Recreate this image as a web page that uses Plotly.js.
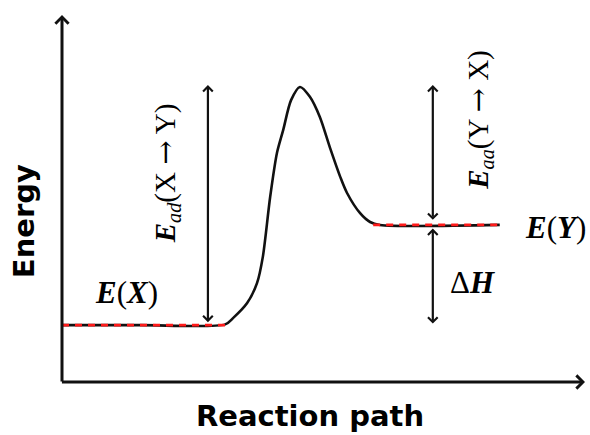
<!DOCTYPE html>
<html>
<head>
<meta charset="utf-8">
<script src="https://cdn.plot.ly/plotly-3.0.1.min.js"></script>
<style>html,body{margin:0;padding:0;background:#fff;}#chart{width:590px;height:435px;}</style>
</head>
<body>
<div id="chart"></div>
<script>
// Reaction coordinate (arbitrary units) and energy (arbitrary units)
const pathX = [0, 1.5, 3.12, 3.27, 3.54, 3.73, 3.84, 3.98, 4.11, 4.23, 4.38, 4.55, 4.74, 4.93, 5.12, 5.32, 5.45, 5.70, 5.89, 6.08, 8.37];
const pathE = [1.55, 1.55, 1.57, 1.74, 2.15, 2.70, 3.41, 5.04, 6.24, 6.87, 7.68, 8.04, 7.77, 7.22, 6.40, 5.59, 5.15, 4.60, 4.36, 4.28, 4.28];

const E_X = 1.55;      // reactant level
const E_Y = 4.28;      // product level
const E_TS = 8.09;     // top of activation arrows
const levelX_X = [0, 3.2];
const levelX_Y = [5.95, 8.37];
const arrowX_ad = 2.79;
const arrowX_aa = 7.09;
const axisMaxX = 10;
const axisMaxY = 10;

const ARROW = '<span style="font-family:DejaVu Serif">→</span>';
const labels = {
  energy: 'Energy',
  path: 'Reaction path',
  ex: '<b><i>E</i></b>(<b><i>X</i></b>)',
  ey: '<b><i>E</i></b>(<b><i>Y</i></b>)',
  dh: 'Δ<b><i>H</i></b>',
  ead: '<b><i>E</i></b><sub><i>ad</i></sub>(X ' + ARROW + ' Y)',
  eaa: '<b><i>E</i></b><sub><i>aa</i></sub>(Y ' + ARROW + ' X)'
};

const traces = [
  {x: pathX, y: pathE, mode: 'lines', line: {color: '#111', width: 2.6, shape: 'spline', smoothing: 0.8}, hoverinfo: 'skip'},
  {x: levelX_X, y: [E_X, E_X], mode: 'lines', line: {color: '#ff1a1a', width: 2.6, dash: '7px,6px'}, hoverinfo: 'skip'},
  {x: levelX_Y, y: [E_Y, E_Y], mode: 'lines', line: {color: '#ff1a1a', width: 2.6, dash: '7px,6px'}, hoverinfo: 'skip'}
];

function arrow(x, y, ax, ay, both, w) {
  return {x: x, y: y, ax: ax, ay: ay, xref: 'x', yref: 'y', axref: 'x', ayref: 'y',
    showarrow: true, text: '', arrowhead: 4, startarrowhead: 4, arrowside: both ? 'end+start' : 'end',
    arrowsize: 0.85, startarrowsize: 0.85, arrowwidth: w, arrowcolor: '#111', standoff: 0, startstandoff: 0};
}
const serif = {family: 'Liberation Serif, serif', size: 31, color: '#000'};
const serifRot = {family: 'Liberation Serif, serif', size: 29, color: '#000'};
const sans = {family: 'DejaVu Sans, sans-serif', size: 29, color: '#000'};

const annotations = [
  arrow(0, axisMaxY, 0, -0.03, false, 3),
  arrow(axisMaxX, 0, -0.03, 0, false, 3),
  arrow(arrowX_ad, E_TS, arrowX_ad, E_X + 0.04, true, 2.2),
  arrow(arrowX_aa, E_TS, arrowX_aa, E_Y + 0.1, true, 2.2),
  arrow(arrowX_aa, E_Y - 0.1, arrowX_aa, E_X, true, 2.2),
  {x: 1.23, y: 2.44, xref: 'x', yref: 'y', text: labels.ex, showarrow: false, font: serif},
  {x: 9.43, y: 4.20, xref: 'x', yref: 'y', text: labels.ey, showarrow: false, font: serif},
  {x: 7.84, y: 2.72, xref: 'x', yref: 'y', text: labels.dh, showarrow: false, font: serif},
  {x: 1.99, y: 5.69, xref: 'x', yref: 'y', text: labels.ead, showarrow: false, font: serifRot, textangle: -90},
  {x: 7.99, y: 7.14, xref: 'x', yref: 'y', text: labels.eaa, showarrow: false, font: serifRot, textangle: -90},
  {x: -0.736, y: 4.37, xref: 'x', yref: 'y', text: '<b>' + labels.energy + '</b>', showarrow: false, font: sans, textangle: -90},
  {x: 4.74, y: -0.92, xref: 'x', yref: 'y', text: '<b>' + labels.path + '</b>', showarrow: false, font: sans}
];

const layout = {
  width: 590, height: 435,
  margin: {l: 0, r: 0, t: 0, b: 0},
  paper_bgcolor: '#fff', plot_bgcolor: '#fff',
  showlegend: false,
  xaxis: {range: [-62/52.3, 528/52.3], visible: false, fixedrange: true},
  yaxis: {range: [-53/36.7, 382/36.7], visible: false, fixedrange: true},
  annotations: annotations
};
Plotly.newPlot('chart', traces, layout, {displayModeBar: false, staticPlot: true});
</script>
</body>
</html>
